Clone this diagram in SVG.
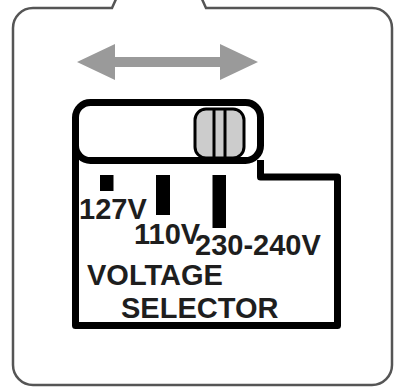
<svg xmlns="http://www.w3.org/2000/svg" width="394" height="391" viewBox="0 0 394 391">
<style>
.frame{fill:none;stroke:#555;stroke-width:2.5}
.box{fill:#fff;stroke:#000;stroke-width:7;stroke-linejoin:round}
.bar{fill:#000}
.lbl{font-family:"Liberation Sans",Arial,sans-serif;font-weight:bold;font-size:29px;fill:#1e1e1e}
</style>
<rect width="394" height="391" fill="#fff"/>
<g id="frame">
<path class="frame" d="M116.5,-2 L112,8 H33 A20,20 0 0 0 13,28 V365 A20,20 0 0 0 33,385 H372 A20,20 0 0 0 392,365 V28 A20,20 0 0 0 372,8 H206 L201.5,-2"/>
</g>
<g id="arrow">
<path fill="#9a9a9a" d="M77,62 L115,44 V57 H220 V44 L258,62 L220,80 V67 H115 V80 Z"/>
</g>
<g id="selector">
<path class="box" d="M75.5,118 V325.5 H337.5 V177 H260.5 V160"/>
<rect class="box" x="75.5" y="102.5" width="185" height="58" rx="15"/>
<rect x="195" y="109" width="49" height="49" rx="11" fill="#cccccc" stroke="#000" stroke-width="3"/>
<line x1="214" y1="109" x2="214" y2="158" stroke="#000" stroke-width="3"/>
<line x1="225" y1="109" x2="225" y2="158" stroke="#000" stroke-width="3"/>
<rect class="bar" x="100" y="175" width="13.5" height="16"/>
<rect class="bar" x="156" y="175" width="14" height="40"/>
<rect class="bar" x="212.5" y="175" width="13.5" height="53"/>
<text class="lbl" x="79" y="218.5">127V</text>
<text class="lbl" x="134" y="244">110V</text>
<text class="lbl" x="195" y="255">230-240V</text>
<text class="lbl" x="87" y="285">VOLTAGE</text>
<text class="lbl" x="121" y="318">SELECTOR</text>
</g>
</svg>
